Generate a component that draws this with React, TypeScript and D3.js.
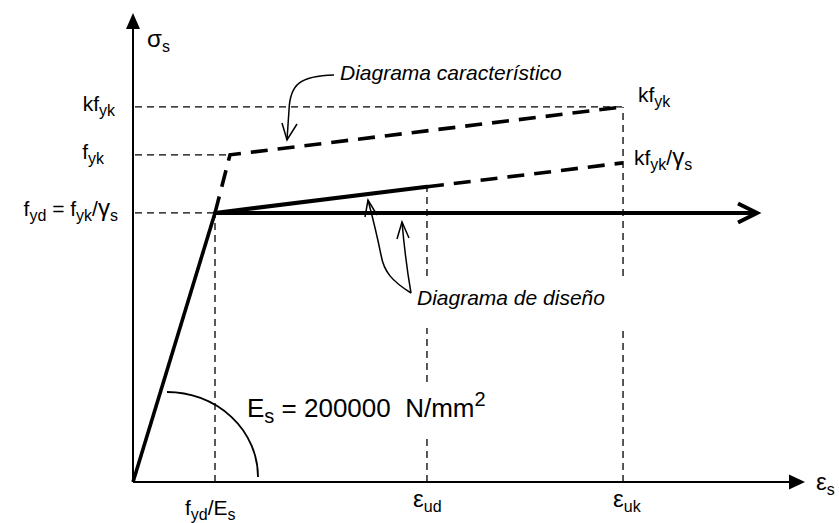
import React from "react";
import * as d3 from "d3";

const W = 839;
const H = 523;

// Schematic values: strain in units of fyd/Es, stress in units of fyd
const axisMax = [8.195, 1.743]; // [strain, stress] at the arrow tips
const strainTickNames = ["fyd/Es", "εud", "εuk"];
const strainTickValues = [1.0, 3.585, 5.976];
const stressTickNames = ["fyd", "fyk", "kfyk"];
const stressTickValues = [1.0, 1.216, 1.394];
const charYieldStrain = 1.183;

const elasticBranch: [number, number][] = [[0, 0], [1.0, 1.0]];
const designInclined: [number, number][] = [[1.0, 1.0], [3.585, 1.097]];
const designInclinedExt: [number, number][] = [[3.585, 1.097], [5.976, 1.186]];
const designHorizontal: [number, number][] = [[1.0, 1.0], [7.61, 1.0]];
const characteristicBranch: [number, number][] = [[1.0, 1.0], [1.183, 1.216], [5.976, 1.394]];

// gaps in vertical guide lines (stress units) where text crosses them
const eudSegments: [number, number][] = [[0, 0.164], [0.372, 0.572], [0.766, 1.097]];
const eukSegments: [number, number][] = [[0, 0.572], [0.766, 1.394]];

const FONT = "'Liberation Sans', Arial, Helvetica, sans-serif";

type Part = { t: string; sub?: boolean; sup?: boolean; big?: boolean };

function Label({ x, y, parts, size = 21, anchor = "start", italic = false, subSize, subShift, supShift }: any) {
  const ss = subSize ?? Math.round(size * 0.77);
  const sh = subShift ?? Math.round(size * 0.24);
  const sp = supShift ?? Math.round(size * 0.42);
  let cur = 0;
  return (
    <text x={x} y={y} fontFamily={FONT} fontSize={size} textAnchor={anchor}
      fontStyle={italic ? "italic" : "normal"} fill="#000" style={{ whiteSpace: "pre" }}>
      {(parts as Part[]).map((p, i) => {
        const s = p.sub ? sh : p.sup ? -sp : 0;
        const dy = s - cur;
        cur = s;
        return (
          <tspan key={i} dy={dy} fontSize={p.sub || p.sup ? ss : p.big ? size * 1.15 : size}>{p.t}</tspan>
        );
      })}
    </text>
  );
}

export default function App() {
  const x = d3.scaleLinear().domain([0, axisMax[0]]).range([133, 805]);
  const y = d3.scaleLinear().domain([0, axisMax[1]]).range([482, 13]);
  const line = d3.line<[number, number]>().x((d) => x(d[0])).y((d) => y(d[1]));

  const thin = { stroke: "#000", strokeWidth: 1.3, strokeDasharray: "7 5", fill: "none" };
  const thickDash = { stroke: "#000", strokeWidth: 3.6, strokeDasharray: "17 10", fill: "none" };

  const x0 = x(0), y0 = y(0);
  const [eyd, eud, euk] = strainTickValues;
  const [fyd, fyk, kfyk] = stressTickValues;

  const plateauEnd = x(designHorizontal[1][0]);
  const py = y(fyd);

  return (
    <svg width={W} height={H} style={{ position: "absolute", left: 0, top: 0, background: "#fff" }}>
      <rect width={W} height={H} fill="#fff" />
      {/* guide lines */}
      <line x1={x0 + 2} x2={x(euk)} y1={y(kfyk)} y2={y(kfyk)} {...thin} />
      <line x1={x0 + 2} x2={x(charYieldStrain)} y1={y(fyk)} y2={y(fyk)} {...thin} />
      <line x1={x0 + 2} x2={x(eyd)} y1={y(fyd)} y2={y(fyd)} {...thin} />
      <line x1={x(eyd)} x2={x(eyd)} y1={y(0)} y2={y(fyd)} {...thin} />
      {eudSegments.map((s, i) => (
        <line key={"u" + i} x1={x(eud)} x2={x(eud)} y1={y(s[0])} y2={y(s[1])} {...thin} />
      ))}
      {eukSegments.map((s, i) => (
        <line key={"k" + i} x1={x(euk)} x2={x(euk)} y1={y(s[0])} y2={y(s[1])} {...thin} />
      ))}

      {/* axes */}
      <line x1={x0} x2={x0} y1={y0} y2={y(axisMax[1]) + 14} stroke="#000" strokeWidth={2} />
      <path d={`M${x0},${y(axisMax[1])} L${x0 - 7},${y(axisMax[1]) + 16} L${x0 + 7},${y(axisMax[1]) + 16} Z`} fill="#000" />
      <line x1={x0} x2={x(axisMax[0]) - 14} y1={y0} y2={y0} stroke="#000" strokeWidth={2} />
      <path d={`M${x(axisMax[0])},${y0} L${x(axisMax[0]) - 16},${y0 - 7.5} L${x(axisMax[0]) - 16},${y0 + 7.5} Z`} fill="#000" />

      {/* curves */}
      <path d={line(characteristicBranch) as string} {...thickDash} />
      <path d={line(designInclinedExt) as string} {...thickDash} />
      <path d={line(elasticBranch) as string} stroke="#000" strokeWidth={3.6} fill="none" />
      <path d={line(designInclined) as string} stroke="#000" strokeWidth={4} fill="none" strokeLinecap="round" />
      <path d={line(designHorizontal) as string} stroke="#000" strokeWidth={4} fill="none" />
      <path d={`M${plateauEnd - 19},${py - 9.5} L${plateauEnd},${py} L${plateauEnd - 19},${py + 9.5}`}
        stroke="#000" strokeWidth={4} fill="none" />

      {/* Es arc */}
      <path d={`M167,392 A91,85 0 0 1 258,477`} stroke="#000" strokeWidth={1.8} fill="none" />

      {/* annotation arrows */}
      <g stroke="#000" strokeWidth={1.5} fill="none">
        <path d="M334,75 C300,76 290,84 289,110 L287,140" />
        <path d="M282,123 L287,140 L297,124" />
        <path d="M411,293 C392,281 384,272 381,255 C377,235 372,215 368,200" />
        <path d="M365,217 L368,200 L377,215" />
        <path d="M411,293 C407,270 404,245 402,222" />
        <path d="M397,239 L402,222 L409,238" />
      </g>

      {/* texts */}
      <Label x={147} y={47} parts={[{ t: "σ", big: true }, { t: "s", sub: true }]} />
      <Label x={115} y={111} anchor="end" parts={[{ t: "kf" }, { t: "yk", sub: true }]} />
      <Label x={104} y={159} anchor="end" parts={[{ t: "f" }, { t: "yk", sub: true }]} />
      <Label x={118} y={216} anchor="end"
        parts={[{ t: "f" }, { t: "yd", sub: true }, { t: " = f" }, { t: "yk", sub: true }, { t: "/" }, { t: "γ", big: true }, { t: "s", sub: true }]} />
      <Label x={638} y={102} parts={[{ t: "kf" }, { t: "yk", sub: true }]} />
      <Label x={634} y={165} parts={[{ t: "kf" }, { t: "yk", sub: true }, { t: "/" }, { t: "γ", big: true }, { t: "s", sub: true }]} />
      <Label x={x(eyd) - 30} y={515} parts={[{ t: "f" }, { t: "yd", sub: true }, { t: "/E" }, { t: "s", sub: true }]} />
      <Label x={x(eud) - 14} y={507} parts={[{ t: "ε", big: true }, { t: "ud", sub: true }]} />
      <Label x={x(euk) - 10} y={507} parts={[{ t: "ε", big: true }, { t: "uk", sub: true }]} />
      <Label x={816} y={490} parts={[{ t: "ε", big: true }, { t: "s", sub: true }]} />
      <Label x={247} y={417} size={26}
        parts={[{ t: "E" }, { t: "s", sub: true }, { t: " = 200000  N/mm" }, { t: "2", sup: true }]} />
      <Label x={340} y={80} size={21} italic parts={[{ t: "Diagrama característico" }]} />
      <Label x={417} y={305} size={21} italic parts={[{ t: "Diagrama de diseño" }]} />
    </svg>
  );
}
